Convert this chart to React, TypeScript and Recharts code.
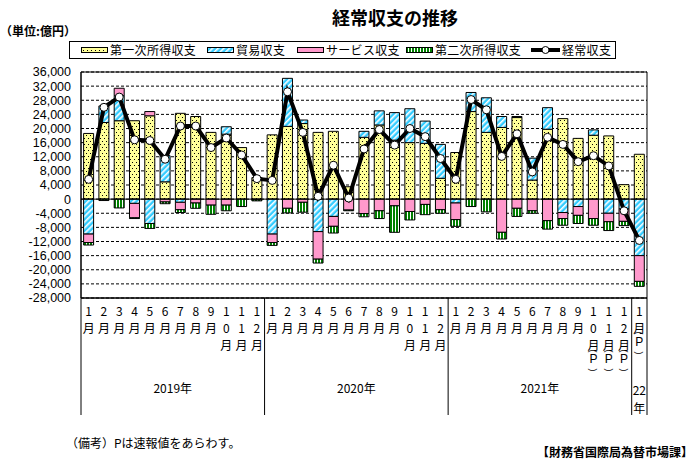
import React from 'react';
import {
  ComposedChart,
  Bar,
  Line,
  XAxis,
  YAxis,
  CartesianGrid,
  ReferenceLine,
  ReferenceArea,
} from 'recharts';

// 億円
const categories = [
  '2019/1', '2019/2', '2019/3', '2019/4', '2019/5', '2019/6', '2019/7', '2019/8', '2019/9', '2019/10', '2019/11', '2019/12',
  '2020/1', '2020/2', '2020/3', '2020/4', '2020/5', '2020/6', '2020/7', '2020/8', '2020/9', '2020/10', '2020/11', '2020/12',
  '2021/1', '2021/2', '2021/3', '2021/4', '2021/5', '2021/6', '2021/7', '2021/8', '2021/9', '2021/10', '2021/11', '2021/12',
  '2022/1',
];
const preliminary = ['2021/10', '2021/11', '2021/12', '2022/1'];

const primaryIncome = [
  18600, 21700, 22200, 22200, 23600, 4900, 24300, 23400, 18900, 18400, 14600, 6100,
  18200, 20600, 21400, 18900, 19200, 3500, 17500, 21000, 16700, 16000, 15800, 5900,
  13200, 24800, 18900, 20300, 23100, 5400, 19800, 22800, 17200, 18100, 17900, 4100,
  12700,
];
const tradeBalance = [
  -9900, 4700, 7100, -1200, -6900, 7400, -900, 0, 0, 2100, 0, 0,
  -9900, 13600, 1000, -9200, -4900, 0, 1700, 4000, 7800, 9600, 6300, 9600,
  -1100, 5400, 9800, 3100, 300, 6200, 6100, -3800, -2100, 1500, -4000, -2800,
  -16000,
];
const servicesBalance = [
  -2400, 0, 2100, -4100, 1200, -800, -2100, -1100, -1700, -1700, 0, -200,
  -2400, -2600, -900, -7800, -2800, -3100, -4100, -3300, -1900, -3500, -1500, -3000,
  -4700, 0, 0, -9400, -2600, -3300, -6100, -1700, -2500, -5500, -2400, -3500,
  -7300,
];
const secondaryIncome = [
  -700, -400, -2500, -200, -1400, -500, -800, -1500, -2600, -1600, -2100, -300,
  -800, -1300, -2800, -1100, -1900, -200, -900, -2200, -7500, -2400, -2900, -1000,
  -1900, -2100, -3600, -1900, -2300, -700, -2400, -1900, -2300, -1900, -2500, -1200,
  -1400,
];
const currentAccount = [
  5600, 26000, 28900, 16800, 16600, 11300, 20700, 20700, 14600, 17300, 12500, 5800,
  5300, 30400, 18900, 800, 9600, 300, 14200, 19700, 15300, 20000, 17700, 11500,
  5600, 28200, 25300, 12100, 18500, 7700, 17500, 15500, 10600, 12300, 9400, -3300,
  -11700,
];

const yTicks = [36000, 32000, 28000, 24000, 20000, 16000, 12000, 8000, 4000, 0, -4000, -8000, -12000, -16000, -20000, -24000, -28000];

const rows = categories.map((cat, i) => ({
  cat,
  primary: primaryIncome[i],
  trade: tradeBalance[i],
  services: servicesBalance[i],
  secondary: secondaryIncome[i],
  ca: currentAccount[i],
}));

const W = 695;
const H = 470;
const margin = { top: 72, right: 48, bottom: 55, left: 0 };
const Y_AXIS_W = 81;
const X_AXIS_H = 117;
const FONT = "'Noto Sans CJK JP', 'Noto Sans', sans-serif";
const NUM_FONT = "'Liberation Sans', Arial, sans-serif";

const Patterns = ({ p }: { p: string }) => (
  <defs>
    <pattern id={`${p}dots`} width="4" height="6" patternUnits="userSpaceOnUse">
      <rect width="4" height="6" fill="#FFFF99" />
      <rect x="0" y="0" width="1" height="1" fill="#000" />
      <rect x="2" y="3" width="1" height="1" fill="#000" />
    </pattern>
    <pattern id={`${p}hatch`} width="4" height="4" patternUnits="userSpaceOnUse" patternTransform="rotate(45)">
      <rect width="4" height="4" fill="#33CCFF" />
      <rect width="1.6" height="4" fill="#fff" />
    </pattern>
    <pattern id={`${p}stripes`} width="3" height="3" patternUnits="userSpaceOnUse">
      <rect width="3" height="3" fill="#fff" />
      <rect width="2" height="3" fill="#008000" />
    </pattern>
  </defs>
);

// vertical "(P)" : parens turned on their side
const VerticalP = ({ x, y1, y2, y3 }: { x: number; y1: number; y2: number; y3: number }) => (
  <>
    <text x={x} y={y1} fontSize={9} fontFamily={NUM_FONT} textAnchor="middle" dominantBaseline="central" transform={`rotate(90 ${x} ${y1})`}>(</text>
    <text x={x} y={y2} fontFamily={NUM_FONT} textAnchor="middle" dominantBaseline="central">P</text>
    <text x={x} y={y3} fontSize={9} fontFamily={NUM_FONT} textAnchor="middle" dominantBaseline="central" transform={`rotate(90 ${x} ${y3})`}>)</text>
  </>
);

const MonthTick = (props: any) => {
  const { x, y, payload, index } = props;
  const value = String(payload.value);
  const [yr, mo] = value.split('/');
  const bw = (W - Y_AXIS_W - margin.right) / categories.length;
  const chars = [...mo.split(''), '月'];
  const isP = preliminary.includes(value);
  const rowY = (i: number) => y + 12 + 17 * i;
  const last = index === categories.length - 1;
  const long = chars.length === 3;
  return (
    <g fontFamily={FONT} fontSize={12} fill="#000">
      {chars.map((c, i) => (
        <text key={i} x={x} y={rowY(i)} textAnchor="middle" dominantBaseline="central">
          {c}
        </text>
      ))}
      {isP &&
        (long ? (
          <VerticalP x={x} y1={y + 53} y2={y + 61} y3={y + 72} />
        ) : (
          <VerticalP x={x} y1={y + 35} y2={y + 44} y3={y + 55} />
        ))}
      {mo === '1' && <line x1={x - bw / 2} x2={x - bw / 2} y1={y} y2={y + X_AXIS_H} stroke="#000" />}
      {last && <line x1={x + bw / 2} x2={x + bw / 2} y1={y} y2={y + X_AXIS_H} stroke="#000" />}
      {mo === '6' && (
        <text x={x + bw / 2} y={y + 89} textAnchor="middle" dominantBaseline="central">
          {yr}年
        </text>
      )}
      {last && mo === '1' && (
        <>
          <text x={x} y={y + 91} textAnchor="middle" dominantBaseline="central">{yr.slice(2)}</text>
          <text x={x} y={y + 109} textAnchor="middle" dominantBaseline="central">年</text>
        </>
      )}
    </g>
  );
};

const legendItems = [
  { label: '第一次所得収支', fill: 'url(#lgdots)', left: 80 },
  { label: '貿易収支', fill: 'url(#lghatch)', left: 206 },
  { label: 'サービス収支', fill: '#FF99CC', left: 296 },
  { label: '第二次所得収支', fill: 'url(#lgstripes)', left: 405 },
];

const ChartLegend = () => (
  <div
    style={{
      position: 'absolute',
      left: 69,
      top: 41,
      width: 547,
      height: 18,
      border: '1px solid #000',
      boxSizing: 'border-box',
    }}
  >
    <svg width={0} height={0} style={{ position: 'absolute' }}>
      <Patterns p="lg" />
    </svg>
    {legendItems.map((it) => (
      <div key={it.label} style={{ position: 'absolute', left: it.left - 69, top: 0, height: 16, display: 'flex', alignItems: 'center' }}>
        <svg width={27} height={6} style={{ marginRight: 2 }}>
          <rect x={0.5} y={0.5} width={26} height={5} fill={it.fill} stroke="#000" />
        </svg>
        <span style={{ fontSize: 12, lineHeight: '16px', letterSpacing: 0.3 }}>{it.label}</span>
      </div>
    ))}
    <div style={{ position: 'absolute', left: 530 - 69, top: 0, height: 16, display: 'flex', alignItems: 'center' }}>
      <svg width={29} height={10} style={{ marginRight: 2 }}>
        <line x1={0} x2={29} y1={5} y2={5} stroke="#000" strokeWidth={4} />
        <circle cx={14.5} cy={5} r={3.5} fill="#fff" stroke="#000" />
      </svg>
      <span style={{ fontSize: 12, lineHeight: '16px', letterSpacing: 0.3 }}>経常収支</span>
    </div>
  </div>
);

const App: React.FC = () => {
  return (
    <div style={{ position: 'absolute', left: 0, top: 0, width: W, height: H, background: '#fff', fontFamily: FONT, color: '#000' }}>
      <div style={{ position: 'absolute', left: 0, width: 790, top: 5, textAlign: 'center', fontSize: 18, fontWeight: 'bold', lineHeight: '24px' }}>
        経常収支の推移
      </div>
      <div style={{ position: 'absolute', left: 0, top: 23, fontSize: 12, fontWeight: 'bold', lineHeight: '16px' }}>
        （単位:億円）
      </div>
      <ChartLegend />
      <ComposedChart width={W} height={H} data={rows} margin={margin} stackOffset="sign" barCategoryGap="17%">
        <Patterns p="ch" />
        <CartesianGrid vertical={false} stroke="#000" strokeDasharray="3 2" />
        <XAxis
          dataKey="cat"
          height={X_AXIS_H}
          interval={0}
          tickLine={false}
          tickSize={0}
          tickMargin={0}
          axisLine={{ stroke: '#000' }}
          tick={(p: any) => <MonthTick {...p} />}
        />
        <YAxis
          width={Y_AXIS_W}
          domain={[-28000, 36000]}
          ticks={yTicks}
          interval={0}
          tickLine={false}
          tickMargin={4}
          axisLine={{ stroke: '#000' }}
          tick={{ fill: '#000', fontSize: 12.5, fontFamily: NUM_FONT }}
          tickFormatter={(v: number) => v.toLocaleString('en-US')}
        />
        <ReferenceArea y1={-28000} y2={36000} fill="none" stroke="#000" ifOverflow="visible" />
        <ReferenceLine y={0} stroke="#000" />
        <Bar dataKey="primary" stackId="a" fill="url(#chdots)" stroke="#000" strokeWidth={1} isAnimationActive={false} />
        <Bar dataKey="trade" stackId="a" fill="url(#chhatch)" stroke="#000" strokeWidth={1} isAnimationActive={false} />
        <Bar dataKey="services" stackId="a" fill="#FF99CC" stroke="#000" strokeWidth={1} isAnimationActive={false} />
        <Bar dataKey="secondary" stackId="a" fill="url(#chstripes)" stroke="#000" strokeWidth={1} isAnimationActive={false} />
        <Line
          dataKey="ca"
          type="linear"
          stroke="#000"
          strokeWidth={4}
          dot={{ r: 4, fill: '#fff', stroke: '#000', strokeWidth: 1 }}
          isAnimationActive={false}
        />
      </ComposedChart>
      <div style={{ position: 'absolute', left: 66, top: 435, fontSize: 12, lineHeight: '16px' }}>
        （備考）Pは速報値をあらわす。
      </div>
      <div style={{ position: 'absolute', right: 2, top: 444, fontSize: 12, fontWeight: 'bold', lineHeight: '16px' }}>
        【財務省国際局為替市場課】
      </div>
    </div>
  );
};

export default App;
